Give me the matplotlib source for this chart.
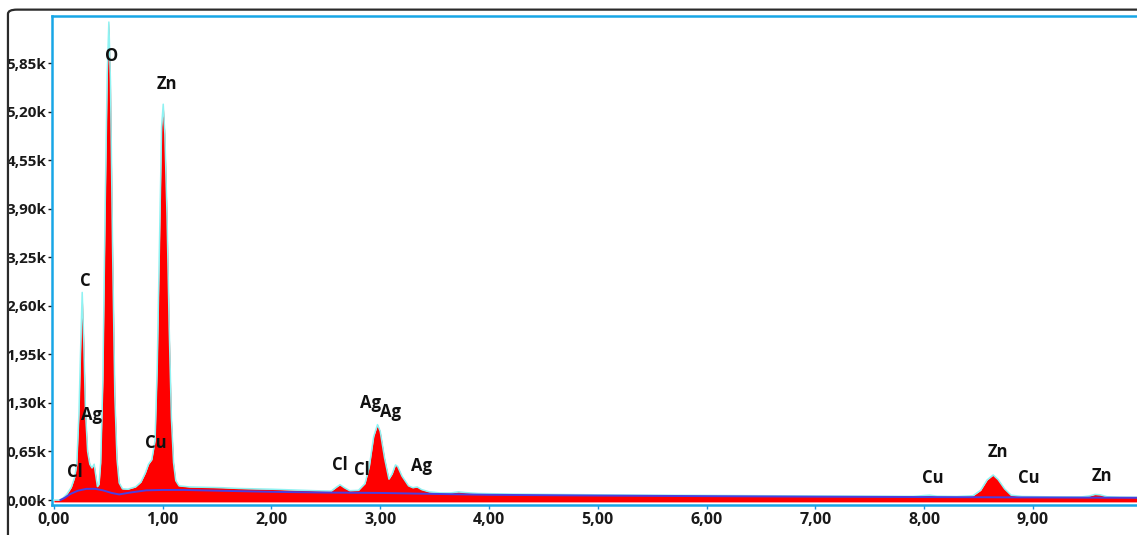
import matplotlib
matplotlib.use("Agg")
import matplotlib.pyplot as plt
from matplotlib.patches import FancyBboxPatch

# spectrum outline (energy keV, counts)
energy = [0.00, 0.05, 0.08, 0.12, 0.16, 0.19, 0.21, 0.23, 0.245, 0.26, 0.275, 0.29,
          0.31, 0.33, 0.35, 0.37, 0.385, 0.40, 0.415, 0.43, 0.45, 0.47, 0.49, 0.505,
          0.52, 0.54, 0.56, 0.58, 0.60, 0.63, 0.68, 0.75, 0.80, 0.84, 0.87, 0.90,
          0.93, 0.95, 0.97, 0.99, 1.005, 1.02, 1.04, 1.06, 1.08, 1.10, 1.12, 1.15,
          1.25, 1.40, 1.55, 1.70, 1.85, 2.00, 2.20, 2.40, 2.55, 2.60, 2.63, 2.67,
          2.72, 2.80, 2.86, 2.90, 2.94, 2.975, 3.00, 3.04, 3.08, 3.11, 3.14, 3.16,
          3.20, 3.26, 3.30, 3.34, 3.38, 3.45, 3.55, 3.65, 3.72, 3.78, 3.90, 4.20,
          4.60, 5.00, 5.50, 6.00, 6.50, 7.00, 7.50, 7.90, 8.00, 8.05, 8.12, 8.30,
          8.45, 8.52, 8.58, 8.635, 8.68, 8.74, 8.80, 8.90, 9.00, 9.20, 9.45, 9.52,
          9.57, 9.62, 9.68, 9.80, 10.0]
counts = [0, 0, 20, 80, 170, 300, 480, 1150, 2000, 2780, 2100, 1200,
          650, 480, 430, 480, 330, 180, 210, 500, 1600, 3800, 5700, 6400,
          5600, 3300, 1400, 550, 230, 150, 145, 175, 240, 360, 480, 540,
          800, 1800, 3400, 5000, 5300, 4900, 3800, 2300, 1100, 500, 260, 190,
          175, 170, 165, 155, 150, 145, 135, 125, 120, 175, 205, 165,
          125, 130, 220, 450, 850, 1010, 920, 560, 280, 350, 470, 450,
          320, 190, 165, 175, 140, 110, 95, 95, 110, 100, 88, 80,
          75, 70, 65, 62, 58, 55, 52, 50, 60, 65, 52, 48,
          58, 130, 270, 335, 275, 150, 65, 48, 46, 42, 42, 55,
          75, 70, 45, 38, 36]

# fitted background
bg_energy = [0.06, 0.10, 0.15, 0.22, 0.30, 0.38, 0.45, 0.53, 0.60, 0.70, 0.85, 1.00,
             1.20, 1.50, 2.00, 2.50, 3.00, 3.50, 4.00, 5.00, 6.00, 7.00, 8.00, 9.00, 10.0]
bg_counts = [0, 30, 80, 125, 150, 150, 130, 95, 75, 100, 130, 135,
             135, 125, 110, 100, 95, 82, 70, 60, 52, 45, 40, 35, 30]

# element labels (text, energy, counts)
labels = [("O", 0.53, 5950), ("Zn", 1.04, 5570), ("C", 0.285, 2930),
          ("Ag", 0.345, 1140), ("Cl", 0.195, 375), ("Cu", 0.94, 765),
          ("Cl", 2.63, 470), ("Cl", 2.835, 400), ("Ag", 2.91, 1300),
          ("Ag", 3.09, 1180), ("Ag", 3.38, 455), ("Cu", 8.08, 295),
          ("Zn", 8.68, 645), ("Cu", 8.96, 295), ("Zn", 9.63, 320)]

xticks = [0, 1, 2, 3, 4, 5, 6, 7, 8, 9]
xtick_labels = ["0,00", "1,00", "2,00", "3,00", "4,00", "5,00", "6,00", "7,00", "8,00", "9,00"]
yticks = [0, 650, 1300, 1950, 2600, 3250, 3900, 4550, 5200, 5850]
ytick_labels = ["0,00k", "0,65k", "1,30k", "1,95k", "2,60k", "3,25k", "3,90k", "4,55k", "5,20k", "5,85k"]

plt.rcParams['font.family'] = ['Open Sans', 'DejaVu Sans']

fig = plt.figure(figsize=(11.37, 5.35), dpi=100)
ax = fig.add_axes([0.0457, 0.056, 0.9555, 0.914])

# outer window frame
frame = FancyBboxPatch((0.007, -0.2), 1.2, 1.182, boxstyle="round,pad=0,rounding_size=0.008",
                       transform=fig.transFigure, fill=False, edgecolor="#2b2b2b",
                       linewidth=1.6, zorder=0)
fig.patches.append(frame)

ax.fill_between(energy, -25, counts, color="#ff0000", linewidth=0, zorder=2)
ax.plot(energy, counts, color="#8ff2f2", linewidth=1.1, zorder=3)
ax.plot(bg_energy, bg_counts, color="#4a3fe0", linewidth=1.4, zorder=4)

for txt, xe, yc in labels:
    ax.text(xe, yc, txt, ha="center", va="center", fontsize=12, fontweight="bold",
            color="#111111", zorder=5)

ax.set_xlim(-0.018, 9.97)
ax.set_ylim(-67, 6480)
ax.set_xticks(xticks)
ax.set_xticklabels(xtick_labels)
ax.set_yticks(yticks)
ax.set_yticklabels(ytick_labels)
ax.tick_params(axis="both", length=3, width=1, colors="#1a1a1a")
ax.tick_params(axis="x", labelsize=11.5, colors="#1a8fd8", labelcolor="#1a1a1a", pad=2)
ax.tick_params(axis="y", labelsize=11, pad=1)
for lab in ax.get_xticklabels() + ax.get_yticklabels():
    lab.set_fontweight("bold")

for side in ["left", "top", "bottom", "right"]:
    ax.spines[side].set_color("#18a6e6")
    ax.spines[side].set_linewidth(1.8)

fig.savefig("out.png", dpi=100)
